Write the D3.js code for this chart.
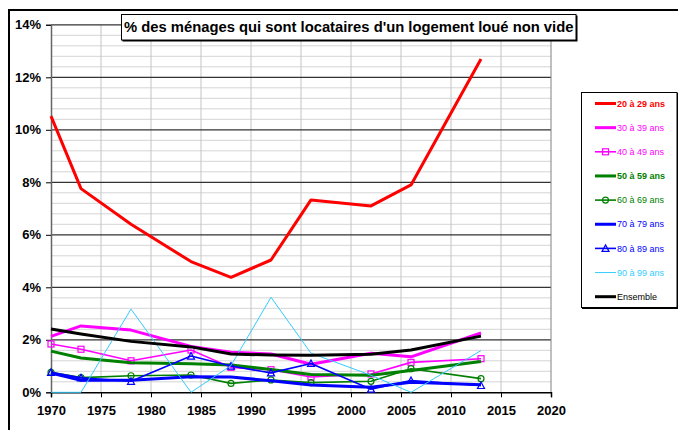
<!DOCTYPE html>
<html><head><meta charset="utf-8">
<script src="https://cdn.jsdelivr.net/npm/d3@7"></script>
<style>
html,body{margin:0;padding:0;background:#fff;}
text{font-family:"Liberation Sans",Arial,sans-serif;}
</style></head>
<body>
<svg id="c" width="678" height="430"></svg>
<script>
const years = [1970,1973,1978,1984,1988,1992,1996,2002,2006,2013];
const age20 = [10.52,7.76,6.4,4.98,4.38,5.04,7.33,7.1,7.9,12.7];
const age30 = [2.13,2.53,2.37,1.75,1.53,1.46,1.07,1.49,1.35,2.26];
const age40 = [1.84,1.64,1.2,1.61,0.95,0.86,0.58,0.7,1.14,1.28];
const age50 = [1.57,1.31,1.13,1.09,1.04,0.87,0.68,0.65,0.83,1.17];
const age60 = [0.76,0.56,0.63,0.66,0.34,0.47,0.37,0.42,0.9,0.52];
const age70 = [0.73,0.46,0.46,0.59,0.58,0.44,0.28,0.19,0.38,0.29];
const age80 = [0.76,0.55,0.42,1.38,1.0,0.74,1.1,0.12,0.45,0.26];
const age90 = [0,0,3.17,0,1.02,3.62,1.49,0.65,0,1.59];
const ensemble = [2.41,2.22,1.94,1.73,1.46,1.42,1.41,1.45,1.61,2.14];
const seriesNames = ["20 à 29 ans","30 à 39 ans","40 à 49 ans","50 à 59 ans","60 à 69 ans","70 à 79 ans","80 à 89 ans","90 à 99 ans","Ensemble"];
const yTicks = [0,2,4,6,8,10,12,14];
const xTicks = [1970,1975,1980,1985,1990,1995,2000,2005,2010,2015,2020];
const title = "% des ménages qui sont locataires d'un logement loué non vide";

const styles = [
  {color:"#ff0000", w:3, marker:null, bold:true},
  {color:"#ff00ff", w:3, marker:null, bold:false},
  {color:"#ff00ff", w:1.6, marker:"square", bold:false},
  {color:"#008000", w:3, marker:null, bold:true},
  {color:"#008000", w:1.6, marker:"circle", bold:false},
  {color:"#0000ff", w:3, marker:null, bold:false},
  {color:"#0000ff", w:1.6, marker:"triangle", bold:false},
  {color:"#33ccff", w:1, marker:null, bold:false},
  {color:"#000000", w:3, marker:null, bold:false}
];
const values = [age20,age30,age40,age50,age60,age70,age80,age90,ensemble];

const svg = d3.select("#c");
svg.append("rect").attr("width",678).attr("height",430).attr("fill","#fff");

const x = d3.scaleLinear().domain([1970,2020]).range([51,551]);
const y = d3.scaleLinear().domain([0,14]).range([392.3,24.8]);

// outer frame
svg.append("path").attr("d","M9,432V10H680").attr("fill","none").attr("stroke","#000").attr("stroke-width",2);

// minor gridlines
const minor = d3.range(0,14.01,0.4).filter(v=>Math.abs(v/2-Math.round(v/2))>0.01);
svg.append("g").selectAll("line").data(minor).join("line")
  .attr("x1",x(1970)).attr("x2",x(2020)).attr("y1",d=>y(d)).attr("y2",d=>y(d))
  .attr("stroke","#d4d4d4").attr("stroke-width",1);
// vertical gridlines
svg.append("g").selectAll("line").data(xTicks.slice(1,-1)).join("line")
  .attr("x1",d=>x(d)).attr("x2",d=>x(d)).attr("y1",y(14)).attr("y2",y(0))
  .attr("stroke","#c4c4c4").attr("stroke-width",1);
// major gridlines
svg.append("g").selectAll("line").data(yTicks.slice(1)).join("line")
  .attr("x1",x(1970)).attr("x2",x(2020)).attr("y1",d=>y(d)).attr("y2",d=>y(d))
  .attr("stroke","#333").attr("stroke-width",1.2);
// plot border right
svg.append("line").attr("x1",x(2020)).attr("x2",x(2020)).attr("y1",y(14)).attr("y2",y(0)).attr("stroke","#808080");

// axes
const yAxis = d3.axisLeft(y).tickValues(yTicks).tickFormat(d=>d+"%").tickSize(5).tickPadding(5);
const gy = svg.append("g").attr("transform",`translate(${x(1970)},0)`).call(yAxis);
gy.select(".domain").attr("stroke","#666").attr("stroke-width",1.5);
gy.selectAll(".tick line").attr("stroke","#000");
gy.selectAll("text").attr("font-size",13).attr("font-weight","bold").attr("fill","#000").attr("font-family","Liberation Sans, Arial");

const xAxis = d3.axisBottom(x).tickValues(xTicks).tickFormat(d3.format("d")).tickSize(5).tickPadding(8);
const gx = svg.append("g").attr("transform",`translate(0,${y(0)})`).call(xAxis);
gx.select(".domain").attr("stroke","#000").attr("stroke-width",1.5);
gx.selectAll(".tick line").attr("stroke","#000");
gx.selectAll("text").attr("font-size",13).attr("font-weight","bold").attr("fill","#000").attr("font-family","Liberation Sans, Arial");

// series
const line = d3.line().x((d,i)=>x(years[i])).y(d=>y(d));
const plot = svg.append("g");
function drawMarker(g, type, cx, cy, color){
  if(type==="square") g.append("rect").attr("x",cx-3).attr("y",cy-3).attr("width",6).attr("height",6).attr("fill","none").attr("stroke",color).attr("stroke-width",1.2);
  else if(type==="circle") g.append("circle").attr("cx",cx).attr("cy",cy).attr("r",3).attr("fill","none").attr("stroke",color).attr("stroke-width",1.2);
  else if(type==="triangle") g.append("path").attr("d",`M${cx},${cy-3.5}L${cx+3.5},${cy+3}L${cx-3.5},${cy+3}Z`).attr("fill","none").attr("stroke",color).attr("stroke-width",1.2);
}
values.forEach((vals,k)=>{
  const s = styles[k];
  plot.append("path").datum(vals).attr("d",line).attr("fill","none")
    .attr("stroke",s.color).attr("stroke-width",s.w).attr("stroke-linejoin","round");
  if(s.marker){
    vals.forEach((v,i)=>drawMarker(plot,s.marker,x(years[i]),y(v),s.color));
  }
});

// title box
const tg = svg.append("g");
tg.append("rect").attr("x",122.5).attr("y",15.5).attr("width",455).attr("height",26).attr("fill","#000");
tg.append("rect").attr("x",121.5).attr("y",14.5).attr("width",454.5).attr("height",25.5).attr("fill","#fff").attr("stroke","#000").attr("stroke-width",1);
const tt = tg.append("text").attr("x",348.7).attr("y",32).attr("text-anchor","middle")
  .attr("font-size",15).attr("font-weight","bold").attr("fill","#000").text(title);
const tl = tt.node().getComputedTextLength();
tt.attr("font-size", 15*450/tl);

// legend
const lg = svg.append("g");
lg.append("rect").attr("x",582).attr("y",93).attr("width",96).attr("height",216).attr("fill","#000");
lg.append("rect").attr("x",581.5).attr("y",92.5).attr("width",95.5).attr("height",215).attr("fill","#fff").attr("stroke","#000");
seriesNames.forEach((n,k)=>{
  const s = styles[k];
  const cy = 103.5 + k*24.15;
  lg.append("line").attr("x1",595).attr("x2",616).attr("y1",cy).attr("y2",cy).attr("stroke",s.color).attr("stroke-width",s.w);
  if(s.marker) drawMarker(lg,s.marker,605.5,cy,s.color);
  lg.append("text").attr("x",617).attr("y",cy+3.2).attr("font-size",9)
    .attr("font-weight",s.bold?"bold":"normal").attr("fill",s.color).text(n);
});
</script>
</body></html>
